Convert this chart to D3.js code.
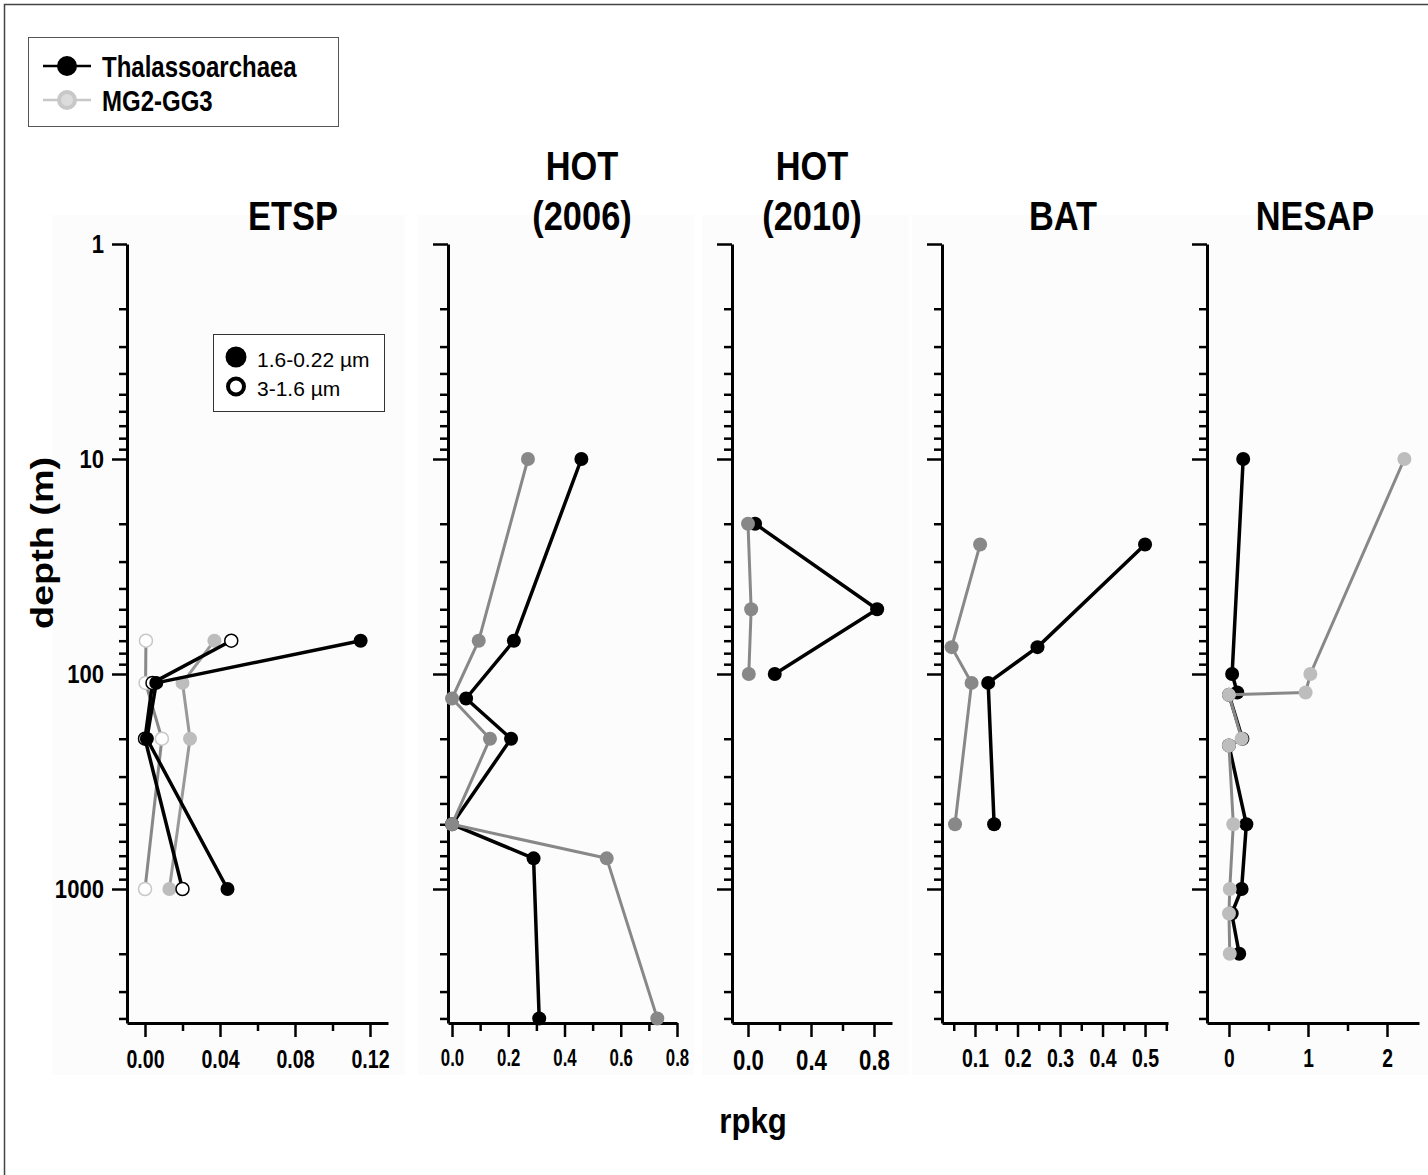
<!DOCTYPE html>
<html>
<head>
<meta charset="utf-8">
<script src="https://cdn.jsdelivr.net/npm/d3@7"></script>
<style>
  body { margin: 0; background: #fff; }
  svg text { font-family: "Liberation Sans", Arial, sans-serif; }
</style>
</head>
<body>
<svg id="chart" width="1428" height="1175"></svg>
<script>
// ---- data ----
const panelTitles = [["ETSP"], ["HOT", "(2006)"], ["HOT", "(2010)"], ["BAT"], ["NESAP"]];
const depthMajor = [1, 10, 100, 1000];

// ETSP: two size fractions
const etspDepth = [70, 110, 200, 1000];
const etspThalSmall = [0.115, 0.006, 0.001, 0.044];   // 1.6-0.22 um
const etspThalLarge = [0.046, 0.004, 0.0, 0.020];     // 3-1.6 um
const etspMg2Small = [0.037, 0.020, 0.024, 0.013];
const etspMg2Large = [0.0005, 0.0003, 0.009, 0.0];

// HOT 2006
const hot06Depth = [10, 70, 130, 200, 500, 720, 4000];
const hot06Thal = [0.46, 0.22, 0.05, 0.21, 0.0, 0.29, 0.31];
const hot06Mg2 = [0.27, 0.095, 0.0, 0.135, 0.0, 0.55, 0.73];

// HOT 2010
const hot10Depth = [20, 50, 100];
const hot10Thal = [0.045, 0.82, 0.17];
const hot10Mg2 = [0.0, 0.02, 0.005];

// BAT
const batDepth = [25, 75, 110, 500];
const batThal = [0.50, 0.247, 0.131, 0.145];
const batMg2 = [0.112, 0.045, 0.092, 0.053];

// NESAP
const nesapDepth = [10, 100, 122, 125, 200, 215, 500, 1000, 1300, 2000];
const nesapThal = [0.18, 0.04, 0.105, 0.0, 0.17, 0.0, 0.22, 0.16, 0.035, 0.13];
const nesapMg2 = [2.22, 1.03, 0.97, 0.0, 0.16, 0.0, 0.055, 0.01, 0.0, 0.01];

// x tick values per panel
const xMajor = [[0, 0.04, 0.08, 0.12], [0, 0.2, 0.4, 0.6, 0.8], [0, 0.4, 0.8], [0.1, 0.2, 0.3, 0.4, 0.5], [0, 1, 2]];
const xMinor = [[0.02, 0.06, 0.10], [0.1, 0.3, 0.5, 0.7], [0.2, 0.6], [0.05, 0.15, 0.25, 0.35, 0.45, 0.55], [0.5, 1.5]];
const xFormat = [".2f", ".1f", ".1f", ".1f", "d"];

// ---- layout ----
const left = [127, 448, 732, 942, 1207];
const right = [388, 677, 892, 1168, 1419];
const xDomain = [[-0.0096, 0.1296], [-0.0143, 0.8], [-0.1016, 0.9143], [0.0224, 0.554], [-0.278, 2.405]];
const titleX = [293, 582, 812, 1063, 1315];
const tickFont = [26.5, 24, 30, 25, 26];
const tickSquash = [0.74, 0.70, 0.74, 0.78, 0.74];
const yTop = 244, yBottom = 1023;

const BLACK = "#000", GREY = "#888", LIGHT = "#bdbdbd";

const zip = (d, v) => d.map((dd, i) => ({ d: dd, v: v[i] }));

// series per panel, drawn in this order
const series = [
  [
    { pts: zip(etspDepth, etspMg2Large), line: GREY, fill: "#fff", stroke: "#c8c8c8", sw: 1.5 },
    { pts: zip(etspDepth, etspMg2Small), line: "#999", fill: LIGHT, stroke: LIGHT, sw: 0 },
    { pts: zip(etspDepth, etspThalLarge), line: BLACK, fill: "#fff", stroke: BLACK, sw: 1.5 },
    { pts: zip(etspDepth, etspThalSmall), line: BLACK, fill: BLACK, stroke: BLACK, sw: 0 }
  ],
  [
    { pts: zip(hot06Depth, hot06Thal), line: BLACK, fill: BLACK, stroke: BLACK, sw: 0 },
    { pts: zip(hot06Depth, hot06Mg2), line: GREY, fill: GREY, stroke: GREY, sw: 0 }
  ],
  [
    { pts: zip(hot10Depth, hot10Thal), line: BLACK, fill: BLACK, stroke: BLACK, sw: 0 },
    { pts: zip(hot10Depth, hot10Mg2), line: GREY, fill: GREY, stroke: GREY, sw: 0 }
  ],
  [
    { pts: zip(batDepth, batThal), line: BLACK, fill: BLACK, stroke: BLACK, sw: 0 },
    { pts: zip(batDepth, batMg2), line: GREY, fill: GREY, stroke: GREY, sw: 0 }
  ],
  [
    { pts: zip(nesapDepth, nesapThal), line: BLACK, fill: BLACK, stroke: BLACK, sw: 0 },
    { pts: zip(nesapDepth, nesapMg2), line: GREY, fill: LIGHT, stroke: LIGHT, sw: 0 }
  ]
];

const svg = d3.select("#chart");

// condensed bold text placed at (x, y)
function label(parent, x, y, str, size, k, anchor) {
  return parent.append("text")
    .attr("transform", `translate(${x},${y}) scale(${k},1)`)
    .attr("text-anchor", anchor || "start")
    .attr("font-size", size).attr("font-weight", "bold")
    .text(str);
}

// frame
svg.append("path").attr("d", "M4.5,1175 V4.5 H1428").attr("fill", "none").attr("stroke", "#444").attr("stroke-width", 1.5);

const y = d3.scaleLog().domain([1, 4200]).range([yTop, yBottom]);
const yMinor = [];
[1, 10, 100, 1000].forEach(b => { for (let k = 2; k <= 9; k++) if (b * k <= 4200) yMinor.push(b * k); });

panelTitles.forEach((title, i) => {
  const g = svg.append("g");
  const x = d3.scaleLinear().domain(xDomain[i]).range([left[i], right[i]]);

  // faint panel background
  g.append("rect")
    .attr("x", left[i] - (i === 0 ? 75 : 30)).attr("y", 215)
    .attr("width", right[i] - left[i] + (i === 0 ? 92 : 47)).attr("height", 860)
    .attr("fill", "#fcfcfc");

  // title
  title.forEach((line, j) => {
    label(g, titleX[i], 230 - (title.length - 1 - j) * 50, line, 40, 0.86, "middle");
  });

  // y axis minor
  g.append("g").attr("transform", `translate(${left[i]},0)`)
    .call(d3.axisLeft(y).tickValues(yMinor).tickSize(8).tickFormat(""))
    .call(a => a.select(".domain").remove())
    .call(a => a.selectAll("line").attr("stroke-width", 2.5));
  // y axis major
  g.append("g").attr("transform", `translate(${left[i]},0)`)
    .call(d3.axisLeft(y).tickValues(depthMajor).tickSize(15).tickSizeOuter(0).tickPadding(8)
      .tickFormat(i === 0 ? d3.format("d") : ""))
    .call(a => a.select(".domain").attr("stroke-width", 3))
    .call(a => a.selectAll("line").attr("stroke-width", 2.5))
    .call(a => a.selectAll("text").attr("font-size", 26).attr("font-weight", "bold")
      .attr("x", -23 / 0.85).attr("transform", "scale(0.85,1)"));

  // x axis minor
  g.append("g").attr("transform", `translate(0,${yBottom})`)
    .call(d3.axisBottom(x).tickValues(xMinor[i]).tickSize(8).tickFormat(""))
    .call(a => a.select(".domain").remove())
    .call(a => a.selectAll("line").attr("stroke-width", 2.5));
  // x axis major
  g.append("g").attr("transform", `translate(0,${yBottom})`)
    .call(d3.axisBottom(x).tickValues(xMajor[i]).tickSize(14).tickSizeOuter(0).tickPadding(12)
      .tickFormat(d3.format(xFormat[i])))
    .call(a => a.select(".domain").attr("stroke-width", 3))
    .call(a => a.selectAll("line").attr("stroke-width", 2.5))
    .call(a => a.selectAll("text").attr("font-size", tickFont[i]).attr("font-weight", "bold")
      .attr("transform", `scale(${tickSquash[i]},1)`));

  // profiles
  const line = d3.line().x(p => x(p.v)).y(p => y(p.d));
  series[i].forEach(s => {
    g.append("path").datum(s.pts)
      .attr("d", line).attr("fill", "none")
      .attr("stroke", s.line).attr("stroke-width", s.line === BLACK ? 3.5 : 3)
      .attr("stroke-linejoin", "round");
    g.selectAll(null).data(s.pts).join("circle")
      .attr("cx", p => x(p.v)).attr("cy", p => y(p.d))
      .attr("r", s.sw ? 6.5 : 7)
      .attr("fill", s.fill).attr("stroke", s.stroke).attr("stroke-width", s.sw);
  });
});

// axis titles
svg.append("text").attr("transform", "translate(53,543) rotate(-90) scale(1.22,1)")
  .attr("text-anchor", "middle").attr("font-size", 31).attr("font-weight", "bold")
  .text("depth (m)");
label(svg, 753, 1133, "rpkg", 35, 0.89, "middle");

// top legend (taxa)
const leg = svg.append("g");
leg.append("rect").attr("x", 28.5).attr("y", 37.5).attr("width", 310).attr("height", 89)
  .attr("fill", "#fff").attr("stroke", "#555").attr("stroke-width", 1);
const taxa = ["Thalassoarchaea", "MG2-GG3"];
const taxaLine = [BLACK, "#c8c8c8"];
const taxaFill = [BLACK, "#dcdcdc"];
taxa.forEach((name, j) => {
  const cy = 66 + j * 34;
  leg.append("line").attr("x1", 43).attr("x2", 91).attr("y1", cy).attr("y2", cy)
    .attr("stroke", taxaLine[j]).attr("stroke-width", 2.5);
  leg.append("circle").attr("cx", 67).attr("cy", cy).attr("r", j ? 8 : 10)
    .attr("fill", taxaFill[j]).attr("stroke", taxaLine[j]).attr("stroke-width", j ? 4 : 0);
  label(leg, 102, cy + 11, name, 30, 0.8);
});

// size-fraction legend
const sf = svg.append("g");
sf.append("rect").attr("x", 213.5).attr("y", 334.5).attr("width", 171).attr("height", 77)
  .attr("fill", "#fff").attr("stroke", "#333").attr("stroke-width", 1);
const fractions = ["1.6-0.22 \u00b5m", "3-1.6 \u00b5m"];
fractions.forEach((name, j) => {
  const cy = 357 + j * 29.5;
  sf.append("circle").attr("cx", 236).attr("cy", cy).attr("r", j ? 8 : 10.5)
    .attr("fill", j ? "#fff" : BLACK).attr("stroke", BLACK).attr("stroke-width", j ? 4 : 0);
  sf.append("text").attr("x", 257).attr("y", cy + 9.5)
    .attr("font-size", 21).text(name);
});
</script>
</body>
</html>
